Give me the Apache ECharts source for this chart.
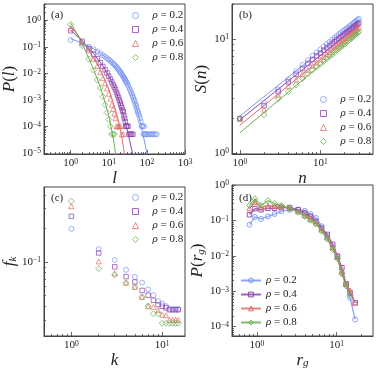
<!DOCTYPE html>
<html>
<head>
<meta charset="UTF-8">
<title>P(l), S(n), f_k, P(r_g)</title>
<script src="https://cdn.jsdelivr.net/npm/echarts@6/dist/echarts.min.js"></script>
<style>
html, body { margin: 0; padding: 0; background: #fff; }
#chart { width: 381px; height: 368px; }
</style>
</head>
<body>
<div id="chart"></div>
<script>
var rho = ['0.2', '0.4', '0.6', '0.8'];
var colors = ['#7b97f3', '#8e44ad', '#e0706b', '#6ab04c'];
var symbols = ['circle', 'rect', 'triangle', 'diamond'];
var symSizes = [5, 4.5, 5, 6];

// (a) P(l)   order: 0.2, 0.4, 0.6, 0.8
var aL = [
  [1,2,3,4,5,6,7,8,9,10,11,12,13,14,15,16,17,18,19,20,21,22,23,24,25,26,27,28,29,30,
   32,34,36,38,40,42,44,46,48,50,52,54,56,58,60,63,66,69,72,75,78,81,84,87,90,
   95,100,110,120,130,140,150,165,180],
  [1,2,3,4,5,6,7,8,9,10,11,12,13,14,15,16,17,18,19,20,21,22,23,24,25,26,27,28,29,30,32,34,36,38,40,43],
  [1,2,3,4,5,6,7,8,9,10,11,12,13,14,15,16,17,18,19,20,22,24],
  [1,2,3,4,5,6,7,8,9,10,11,12,13,14]
];
var aP = [
  [0.18,0.13,0.1,0.08,0.066,0.056,0.048,0.042,0.037,0.033,0.029,0.026,0.023,0.021,0.019,0.017,0.0155,0.014,0.0125,0.0113,
   0.0102,0.0092,0.0083,0.0075,0.0068,0.0062,0.0056,0.0051,0.0046,0.0042,
   0.0035,0.0029,0.0024,0.002,0.0017,0.0014,0.0012,0.001,8.5e-4,7e-4,6e-4,5e-4,4e-4,3.5e-4,3e-4,
   2.5e-4,2e-4,1.5e-4,1e-4,1e-4,1e-4,5e-5,1e-4,5e-5,5e-5,
   5e-5,5e-5,5e-5,5e-5,5e-5,5e-5,5e-5,5e-5,5e-5],
  [0.4,0.16,0.085,0.052,0.035,0.025,0.018,0.0135,0.0102,0.0078,0.006,0.0047,0.0037,0.003,0.0024,0.0019,0.0015,0.0012,9.5e-4,7.5e-4,
   6e-4,5e-4,4e-4,3.5e-4,2.5e-4,2e-4,1.5e-4,1e-4,1e-4,1e-4,1e-4,5e-5,5e-5,5e-5,5e-5,5e-5],
  [0.5,0.15,0.075,0.035,0.019,0.011,0.0065,0.0042,0.0027,0.0017,0.0011,6.5e-4,4.5e-4,3e-4,2e-4,1e-4,1e-4,1e-4,1e-4,1e-4,5e-5,5e-5],
  [0.7,0.11,0.034,0.013,0.0056,0.0028,0.0013,6.5e-4,3.3e-4,1.8e-4,1e-4,5e-5,5e-5,5e-5]
];
var aFitL = [
  [1,2,5,10,20,30,40,50,60,70,80,90,100,115],
  [1,2,4,7,10,15,20,25,30,35,40,47],
  [1,2,3,5,8,10,14,18,22,27],
  [1,1.5,2,3,4,6,8,10,12,14,16]
];
var aFitP = [
  [0.2,0.14,0.07,0.033,0.011,0.0045,0.0018,7e-4,2.8e-4,1.1e-4,4.5e-5,2e-5,1e-5,4e-6],
  [0.42,0.17,0.055,0.019,0.008,0.0025,7e-4,2.2e-4,8e-5,3e-5,1.3e-5,4e-6],
  [0.6,0.17,0.075,0.022,0.0055,0.0025,6e-4,1.6e-4,4e-5,6e-6],
  [0.8,0.3,0.13,0.036,0.014,0.003,8e-4,2.5e-4,7e-5,2e-5,5e-6]
];

// (b) S(n)
var bN = [1,2,3,4,5,6,7,8,9,10,11,12,13,14,15,16,17,18,19,20,21,22,23,24,25,26,27,28,29,30];
var bS = [
  [2.0,2.75,3.6,4.4,5.2,5.9,6.5,7.1,7.6,8.1,8.6,9.0,9.4,9.8,10.2,10.6,11.0,11.3,11.7,12.0,12.3,12.6,12.9,13.2,13.5,13.8,14.1,14.4,14.7,15.0],
  [2.0,2.6,3.45,4.2,4.9,5.5,6.1,6.6,7.1,7.5,7.95,8.35,8.7,9.1,9.45,9.8,10.1,10.45,10.75,11.05,11.35,11.6,11.9,12.15,12.4,12.7,12.95,13.2,13.45,13.7],
  [2.0,2.4,3.2,3.85,4.4,4.9,5.35,5.8,6.2,6.6,7.0,7.35,7.7,8.05,8.4,8.7,9.0,9.3,9.6,9.9,10.2,10.5,10.75,11.0,11.3,11.55,11.8,12.1,12.35,12.6],
  [2.0,2.15,3.0,3.45,3.95,4.5,4.95,5.35,5.7,6.0,6.35,6.7,7.0,7.3,7.6,7.9,8.2,8.5,8.75,9.0,9.3,9.55,9.8,10.05,10.3,10.55,10.8,11.05,11.3,11.55]
];
var bFitN = [1, 30];
var bFitS = [[2.1, 14.5], [1.95, 13.3], [1.75, 12.4], [1.5, 11.3]];

// (c) f_k
var cK = [1,2,3,4,5,6,7,8,9,10,11,12,13,14,15];
var cF = [
  [0.198,0.13,0.1035,0.0846,0.073,0.0649,0.0564,0.05,0.0442,0.042,0.0398,0.0376,0.0376,0.0376,0.0376],
  [0.256,0.12,0.09,0.0735,0.0658,0.0552,0.05,0.045,0.0412,0.0398,0.0385,0.037,0.037,0.037,0.037],
  [0.316,0.1007,0.0788,0.0648,0.0593,0.0483,0.0398,0.0393,0.0366,0.0334,0.033,0.03,0.03,0.03,0.03],
  [0.351,0.0869,0.0762,0.0648,0.0595,0.0483,0.04,0.0341,0.0341,0.028,0.028,0.028,0.028,0.028,0.028]
];

// (d) P(r_g)
var dR = [0.81,0.95,1.13,1.38,1.67,2.03,2.58,3.29,3.99,4.7,5.49,6.47,7.6,8.9,10.2,11.6,13.1,14.7,17.0];
var dP = [
  [0.0756,0.125,0.11,0.13,0.151,0.18,0.2,0.2,0.187,0.151,0.117,0.068,0.035,0.0174,0.0097,0.0033,0.00155,6.5e-4,1.58e-4],
  [0.145,0.214,0.2,0.22,0.22,0.23,0.23,0.2,0.16,0.13,0.094,0.06,0.04,0.021,0.0097,0.0046,0.0016,9e-4,4.7e-4],
  [0.22,0.33,0.23,0.26,0.26,0.25,0.22,0.18,0.14,0.11,0.085,0.055,0.033,0.0174,0.0093,0.0036,0.0016,0.00105,4.7e-4],
  [0.265,0.41,0.265,0.36,0.3,0.265,0.22,0.17,0.13,0.1,0.08,0.05,0.03,0.015,0.0082,0.0031,0.0014,7.5e-4]
];

var serif = '"Liberation Serif", "DejaVu Serif", serif';
var ink = '#222';
var frame = '#444';

function zip(xs, ys) {
  return xs.map(function (x, i) { return [x, ys[i]]; }).filter(function (p) { return p[1] != null; });
}

function majorsIn(min, max) {
  var out = [];
  for (var e = -8; e <= 8; e++) { var v = Math.pow(10, e); if (v >= min * 0.9999 && v <= max * 1.0001) out.push(v); }
  return out;
}
function minorsIn(min, max) {
  var out = [];
  for (var e = -8; e <= 8; e++) for (var k = 2; k <= 9; k++) { var v = k * Math.pow(10, e); if (v >= min && v <= max) out.push(v); }
  return out;
}

var powRich = {
  b: { fontFamily: serif, fontSize: 11, color: ink },
  s: { fontFamily: serif, fontSize: 7.5, color: ink, verticalAlign: 'top' }
};
function powLabel(v) {
  var e = Math.round(Math.log(v) / Math.LN10);
  return '{b|10}{s|' + (e < 0 ? '\u2212' + (-e) : e) + '}';
}

var nameRich = {
  i: { fontFamily: serif, fontStyle: 'italic', fontSize: 17, color: ink },
  n: { fontFamily: serif, fontSize: 17, color: ink },
  sub: { fontFamily: serif, fontStyle: 'italic', fontSize: 11, color: ink, verticalAlign: 'bottom' }
};

function axisPair(kind, grid, min, max, name, nameGap) {
  var pos = kind === 'x' ? 'bottom' : 'left';
  var majors = majorsIn(min, max);
  var main = {
    type: 'log', logBase: 10, gridIndex: grid, min: min, max: max, position: pos,
    axisLine: { show: true, lineStyle: { color: frame, width: 1 } },
    axisTick: { show: true, inside: true, length: 4, customValues: majors, lineStyle: { color: frame, width: 0.8 } },
    axisLabel: { customValues: majors, formatter: powLabel, rich: powRich, margin: kind === 'x' ? 4 : 3 },
    splitLine: { show: false },
    minorTick: { show: false },
    name: name, nameLocation: 'middle', nameGap: nameGap,
    nameTextStyle: { rich: nameRich }
  };
  var minor = {
    type: 'log', logBase: 10, gridIndex: grid, min: min, max: max, position: pos,
    axisLine: { show: false },
    axisTick: { show: true, inside: true, length: 2, customValues: minorsIn(min, max), lineStyle: { color: frame, width: 0.8 } },
    axisLabel: { show: false },
    splitLine: { show: false }
  };
  return [main, minor];
}

var xAxes = [].concat(
  axisPair('x', 0, 0.2, 1000, '{i|l}', 12),
  axisPair('x', 1, 0.8, 45, '{i|n}', 12),
  axisPair('x', 2, 0.5, 17.8, '{i|k}', 11),
  axisPair('x', 3, 0.49, 28.4, '{i|r}{sub|g}', 11)
);
var yAxes = [].concat(
  axisPair('y', 0, 9e-6, 4.1, '{i|P}{n|(}{i|l}{n|)}', 23),
  axisPair('y', 1, 0.98, 20.2, '{i|S}{n|(}{i|n}{n|)}', 22),
  axisPair('y', 2, 0.0215, 0.47, '{i|f}{sub|k}', 23),
  axisPair('y', 3, 5.4e-5, 1.0, '{i|P}{n|(}{i|r}{sub|g}{n|)}', 23)
);

var series = [];
function markerStyle(i) {
  return { color: 'rgba(0,0,0,0)', borderColor: colors[i], borderWidth: 0.9 };
}
for (var i = 0; i < 4; i++) {
  // (a)
  series.push({ type: 'line', xAxisIndex: 0, yAxisIndex: 0, data: zip(aFitL[i], aFitP[i]), showSymbol: false,
    lineStyle: { color: colors[i], width: 1 }, silent: true, z: 1 });
  series.push({ name: 'a|' + rho[i], type: 'scatter', xAxisIndex: 0, yAxisIndex: 0, data: zip(aL[i], aP[i]),
    symbol: symbols[i], symbolSize: symSizes[i], itemStyle: markerStyle(i), z: 2 });
  // (b)
  series.push({ type: 'line', xAxisIndex: 2, yAxisIndex: 2, data: zip(bFitN, bFitS[i]), showSymbol: false,
    lineStyle: { color: colors[i], width: 1 }, silent: true, z: 1 });
  series.push({ name: 'b|' + rho[i], type: 'scatter', xAxisIndex: 2, yAxisIndex: 2, data: zip(bN, bS[i]),
    symbol: symbols[i], symbolSize: symSizes[i], itemStyle: markerStyle(i), z: 2 });
  // (c)
  series.push({ name: 'c|' + rho[i], type: 'scatter', xAxisIndex: 4, yAxisIndex: 4, data: zip(cK, cF[i]),
    symbol: symbols[i], symbolSize: symSizes[i], itemStyle: markerStyle(i), z: 2 });
  // (d)
  series.push({ name: 'd|' + rho[i], type: 'line', xAxisIndex: 6, yAxisIndex: 6, data: zip(dR, dP[i]),
    symbol: symbols[i], symbolSize: symSizes[i], showSymbol: true,
    itemStyle: markerStyle(i), lineStyle: { color: colors[i], width: 1.3, opacity: 0.85 }, z: 2 + i });
}

function legendFor(p, left, top, iw, ih, pad) {
  return {
    data: rho.map(function (r, k) {
      return { name: p + '|' + r, icon: p === 'd' ? undefined : symbols[k],
        itemStyle: { color: 'rgba(0,0,0,0)', borderColor: colors[k], borderWidth: 1 } };
    }),
    orient: 'vertical', left: left, top: top, itemWidth: iw, itemHeight: ih, itemGap: 3,
    padding: 0, selectedMode: false,
    formatter: function (n) { return '{i|\u03c1}{t| = ' + n.split('|')[1] + '}'; },
    textStyle: { color: ink, rich: {
      i: { fontFamily: serif, fontStyle: 'italic', fontSize: 11, color: ink, padding: [0, 0, 0, pad] },
      t: { fontFamily: serif, fontSize: 11, color: ink } } }
  };
}

function panelTag(t, x, y) {
  return { type: 'text', left: x, top: y, style: { text: t, font: '11px ' + serif, fill: ink } };
}

var chart = echarts.init(document.getElementById('chart'), null, { renderer: 'canvas' });
chart.setOption({
  animation: false,
  backgroundColor: '#fff',
  grid: [
    { left: 44, top: 4, width: 141, height: 150, show: true, borderColor: frame, borderWidth: 1, backgroundColor: 'transparent', outerBoundsMode: 'none' },
    { left: 232, top: 4, width: 141, height: 150, show: true, borderColor: frame, borderWidth: 1, backgroundColor: 'transparent', outerBoundsMode: 'none' },
    { left: 44, top: 187, width: 141, height: 149, show: true, borderColor: frame, borderWidth: 1, backgroundColor: 'transparent', outerBoundsMode: 'none' },
    { left: 232, top: 185, width: 141, height: 151, show: true, borderColor: frame, borderWidth: 1, backgroundColor: 'transparent', outerBoundsMode: 'none' }
  ],
  xAxis: xAxes,
  yAxis: yAxes,
  legend: [
    legendFor('a', 132, 10, 6, 6, 9),
    legendFor('b', 320, 94, 6, 6, 9),
    legendFor('c', 132, 192, 6, 6, 9),
    legendFor('d', 240, 275, 20, 6, 0)
  ],
  graphic: [
    panelTag('(a)', 51, 10),
    panelTag('(b)', 239, 10),
    panelTag('(c)', 51, 193),
    panelTag('(d)', 239, 193)
  ],
  series: series
});
</script>
</body>
</html>
